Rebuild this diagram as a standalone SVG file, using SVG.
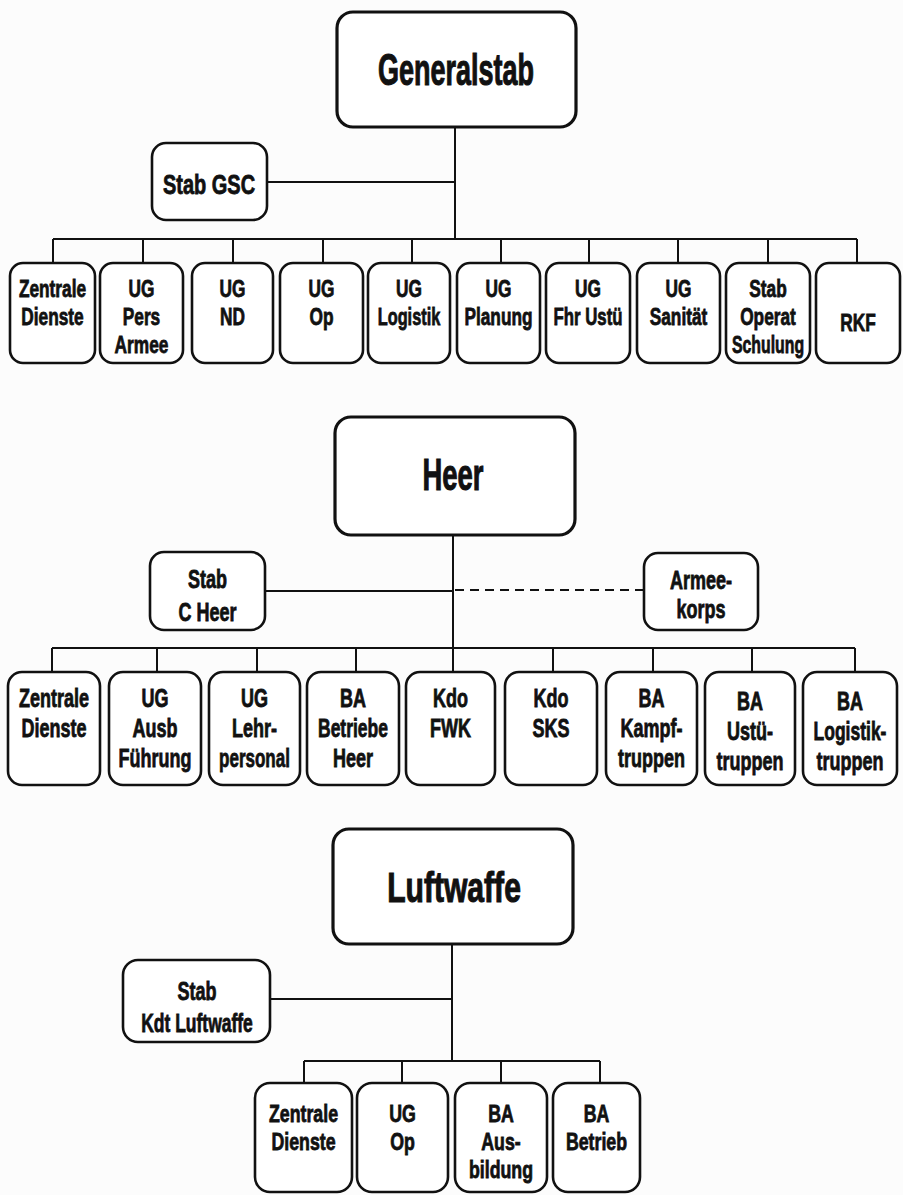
<svg xmlns="http://www.w3.org/2000/svg" width="903" height="1195" viewBox="0 0 903 1195">
<style>
.bx{fill:#fff;stroke:#111;stroke-width:2.6}
.big{fill:#fff;stroke:#111;stroke-width:3.2}
.ln{fill:none;stroke:#111;stroke-width:2}
.dash{fill:none;stroke:#111;stroke-width:2;stroke-dasharray:9 6}
text{font-family:"Liberation Sans",Arial,sans-serif;font-weight:bold;fill:#111;text-anchor:middle;stroke:#111;stroke-width:0.8}
.s{font-size:24px}
.h{font-size:25px}
.t{font-size:45px;stroke-width:1.1}
</style>
<rect width="903" height="1195" fill="#fcfcfc"/>
<g id="connectors">
<path class="ln" d="M455 127V239M267 182H455M53 239H857M53 239V263M143 239V263M233 239V263M323 239V263M412 239V263M501 239V263M589 239V263M678 239V263M768 239V263M857 239V263"/>
<path class="ln" d="M453 535V672M265 591H453M52 648H855M52 648V672M157 648V672M257 648V672M356 648V672M553 648V672M653 648V672M752 648V672M855 648V672"/>
<path class="dash" d="M455 590H644"/>
<path class="ln" d="M452 944V1061M270 999H452M304 1061H600M304 1061V1083M402 1061V1083M501 1061V1083M600 1061V1083"/>
</g>
<g id="generalstab"><rect class="big" x="337" y="12" width="239" height="115" rx="16"/><text class="t" transform="translate(456 85) scale(0.6 1)">Generalstab</text></g>
<g id="stab-gsc"><rect class="bx" x="152" y="143" width="115" height="77" rx="14"/><text class="s" transform="translate(209 194) scale(0.74 1)" style="font-size:27px">Stab GSC</text></g>
<g id="g-zentrale"><rect class="bx" x="10" y="263" width="85" height="100" rx="13"/><text class="s" transform="translate(52.5 297) scale(0.72 1)">Zentrale</text><text class="s" transform="translate(52.5 325) scale(0.72 1)">Dienste</text></g>
<g id="g-pers"><rect class="bx" x="100" y="263" width="83" height="100" rx="13"/><text class="s" transform="translate(141.5 297) scale(0.72 1)">UG</text><text class="s" transform="translate(141.5 325) scale(0.72 1)">Pers</text><text class="s" transform="translate(141.5 353) scale(0.72 1)">Armee</text></g>
<g id="g-nd"><rect class="bx" x="192" y="263" width="81" height="100" rx="13"/><text class="s" transform="translate(232.5 297) scale(0.72 1)">UG</text><text class="s" transform="translate(232.5 325) scale(0.72 1)">ND</text></g>
<g id="g-op"><rect class="bx" x="280" y="263" width="83" height="100" rx="13"/><text class="s" transform="translate(321.5 297) scale(0.72 1)">UG</text><text class="s" transform="translate(321.5 325) scale(0.72 1)">Op</text></g>
<g id="g-logistik"><rect class="bx" x="368" y="263" width="82" height="100" rx="13"/><text class="s" transform="translate(409 297) scale(0.72 1)">UG</text><text class="s" transform="translate(409 325) scale(0.68 1)">Logistik</text></g>
<g id="g-planung"><rect class="bx" x="457" y="263" width="83" height="100" rx="13"/><text class="s" transform="translate(498.5 297) scale(0.72 1)">UG</text><text class="s" transform="translate(498.5 325) scale(0.72 1)">Planung</text></g>
<g id="g-fhr"><rect class="bx" x="546" y="263" width="84" height="100" rx="13"/><text class="s" transform="translate(588 297) scale(0.72 1)">UG</text><text class="s" transform="translate(588 325) scale(0.7 1)">Fhr Ustü</text></g>
<g id="g-sanitaet"><rect class="bx" x="637" y="263" width="83" height="100" rx="13"/><text class="s" transform="translate(678.5 297) scale(0.72 1)">UG</text><text class="s" transform="translate(678.5 325) scale(0.72 1)">Sanität</text></g>
<g id="g-operat"><rect class="bx" x="726" y="263" width="84" height="100" rx="13"/><text class="s" transform="translate(768 297) scale(0.72 1)">Stab</text><text class="s" transform="translate(768 325) scale(0.72 1)">Operat</text><text class="s" transform="translate(768 353) scale(0.66 1)">Schulung</text></g>
<g id="g-rkf"><rect class="bx" x="816" y="263" width="84" height="100" rx="13"/><text class="s" transform="translate(858 331) scale(0.72 1)">RKF</text></g>
<g id="heer"><rect class="big" x="335" y="417" width="240" height="118" rx="16"/><text class="t" transform="translate(453 490) scale(0.61 1)">Heer</text></g>
<g id="stab-c-heer"><rect class="bx" x="150" y="552" width="115" height="78" rx="14"/><text class="h" transform="translate(207.5 588) scale(0.72 1)">Stab</text><text class="h" transform="translate(207.5 621) scale(0.72 1)">C Heer</text></g>
<g id="armeekorps"><rect class="bx" x="644" y="553" width="114" height="77" rx="14"/><text class="h" transform="translate(701 589) scale(0.72 1)">Armee-</text><text class="h" transform="translate(701 618) scale(0.72 1)">korps</text></g>
<g id="h-zentrale"><rect class="bx" x="8" y="672" width="92" height="113" rx="14"/><text class="h" transform="translate(54 707) scale(0.72 1)">Zentrale</text><text class="h" transform="translate(54 737) scale(0.72 1)">Dienste</text></g>
<g id="h-ausb"><rect class="bx" x="109" y="672" width="92" height="113" rx="14"/><text class="h" transform="translate(155 707) scale(0.72 1)">UG</text><text class="h" transform="translate(155 737) scale(0.72 1)">Ausb</text><text class="h" transform="translate(155 767) scale(0.72 1)">Führung</text></g>
<g id="h-lehr"><rect class="bx" x="209" y="672" width="91" height="113" rx="14"/><text class="h" transform="translate(254.5 707) scale(0.72 1)">UG</text><text class="h" transform="translate(254.5 737) scale(0.72 1)">Lehr-</text><text class="h" transform="translate(254.5 767) scale(0.68 1)">personal</text></g>
<g id="h-betriebe"><rect class="bx" x="307" y="672" width="92" height="113" rx="14"/><text class="h" transform="translate(353 707) scale(0.72 1)">BA</text><text class="h" transform="translate(353 737) scale(0.7 1)">Betriebe</text><text class="h" transform="translate(353 767) scale(0.72 1)">Heer</text></g>
<g id="h-fwk"><rect class="bx" x="406" y="672" width="89" height="113" rx="14"/><text class="h" transform="translate(450.5 707) scale(0.72 1)">Kdo</text><text class="h" transform="translate(450.5 737) scale(0.72 1)">FWK</text></g>
<g id="h-sks"><rect class="bx" x="505" y="672" width="92" height="113" rx="14"/><text class="h" transform="translate(551 707) scale(0.72 1)">Kdo</text><text class="h" transform="translate(551 737) scale(0.72 1)">SKS</text></g>
<g id="h-kampf"><rect class="bx" x="606" y="672" width="91" height="113" rx="14"/><text class="h" transform="translate(651.5 707) scale(0.72 1)">BA</text><text class="h" transform="translate(651.5 737) scale(0.72 1)">Kampf-</text><text class="h" transform="translate(651.5 767) scale(0.72 1)">truppen</text></g>
<g id="h-ustue"><rect class="bx" x="705" y="672" width="90" height="113" rx="14"/><text class="h" transform="translate(750 710) scale(0.72 1)">BA</text><text class="h" transform="translate(750 740) scale(0.72 1)">Ustü-</text><text class="h" transform="translate(750 770) scale(0.72 1)">truppen</text></g>
<g id="h-logistik"><rect class="bx" x="803" y="672" width="94" height="113" rx="14"/><text class="h" transform="translate(850 710) scale(0.72 1)">BA</text><text class="h" transform="translate(850 740) scale(0.7 1)">Logistik-</text><text class="h" transform="translate(850 770) scale(0.72 1)">truppen</text></g>
<g id="luftwaffe"><rect class="big" x="333" y="829" width="240" height="115" rx="16"/><text class="t" transform="translate(454 902) scale(0.7 1)" style="font-size:43px">Luftwaffe</text></g>
<g id="stab-kdt"><rect class="bx" x="123" y="960" width="147" height="82" rx="15"/><text class="h" transform="translate(197 1000) scale(0.72 1)">Stab</text><text class="h" transform="translate(197 1032) scale(0.7 1)">Kdt Luftwaffe</text></g>
<g id="l-zentrale"><rect class="bx" x="255" y="1083" width="97" height="109" rx="15"/><text class="s" transform="translate(303.5 1122) scale(0.74 1)">Zentrale</text><text class="s" transform="translate(303.5 1150) scale(0.74 1)">Dienste</text></g>
<g id="l-op"><rect class="bx" x="357" y="1083" width="91" height="109" rx="15"/><text class="s" transform="translate(402.5 1122) scale(0.74 1)">UG</text><text class="s" transform="translate(402.5 1150) scale(0.74 1)">Op</text></g>
<g id="l-ausbildung"><rect class="bx" x="455" y="1083" width="92" height="109" rx="15"/><text class="s" transform="translate(501 1122) scale(0.74 1)">BA</text><text class="s" transform="translate(501 1150) scale(0.74 1)">Aus-</text><text class="s" transform="translate(501 1178) scale(0.74 1)">bildung</text></g>
<g id="l-betrieb"><rect class="bx" x="553" y="1083" width="87" height="109" rx="15"/><text class="s" transform="translate(596.5 1122) scale(0.74 1)">BA</text><text class="s" transform="translate(596.5 1150) scale(0.74 1)">Betrieb</text></g>
</svg>
